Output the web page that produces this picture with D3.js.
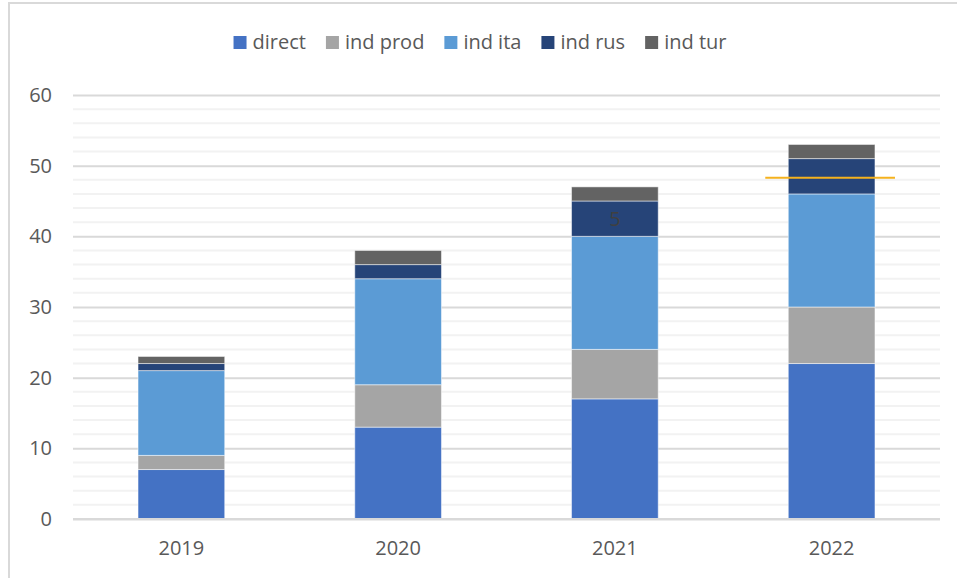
<!DOCTYPE html>
<html>
<head>
<meta charset="utf-8">
<script src="https://cdn.jsdelivr.net/npm/d3@7"></script>
<style>
  body { margin: 0; background: #fff; }
  text { font-family: "Open Sans", sans-serif; fill: #595959; }
</style>
</head>
<body>
<div id="chart"></div>
<script>
var years = ["2019", "2020", "2021", "2022"];
var series = ["direct", "ind prod", "ind ita", "ind rus", "ind tur"];
var direct  = [7, 13, 17, 22];
var indProd = [2, 6, 7, 8];
var indIta  = [12, 15, 16, 16];
var indRus  = [1, 2, 5, 5];
var indTur  = [1, 2, 2, 2];
var colors = ["#4472C4", "#A5A5A5", "#5B9BD5", "#264478", "#636363"];
var yTicks = [0, 10, 20, 30, 40, 50, 60];
var markerValue = 48.3;   // the orange line on the 2022 bar
var labelYear = "2021", labelSeries = "ind rus";

var svg = d3.select("#chart").append("svg")
    .attr("width", 957)
    .attr("height", 578);

// chart frame
svg.append("rect")
    .attr("x", 9).attr("y", 3)
    .attr("width", 1000).attr("height", 700)
    .attr("fill", "none")
    .attr("stroke", "#D9D9D9")
    .attr("stroke-width", 2);

var margin = {top: 95, right: 17, bottom: 59, left: 73};
var width = 957 - margin.left - margin.right;
var height = 578 - margin.top - margin.bottom;

var g = svg.append("g").attr("transform", "translate(" + margin.left + "," + margin.top + ")");

var x = d3.scaleBand().domain(years).range([0, width]).paddingInner(0.6).paddingOuter(0.3);
var y = d3.scaleLinear().domain([0, 60]).range([height, 0]);

var table = years.map(function(yr, i) {
  return {year: yr, "direct": direct[i], "ind prod": indProd[i], "ind ita": indIta[i], "ind rus": indRus[i], "ind tur": indTur[i]};
});
var stacked = d3.stack().keys(series)(table);

// minor gridlines
g.append("g")
    .selectAll("line")
    .data(d3.range(2, 60, 2).filter(function(v){ return v % 10 != 0; }))
    .enter().append("line")
    .attr("x1", 0).attr("x2", width)
    .attr("y1", function(d){ return y(d); })
    .attr("y2", function(d){ return y(d); })
    .attr("stroke", "#F2F2F2")
    .attr("stroke-width", 2);

// major gridlines
g.append("g")
    .attr("class", "grid")
    .call(d3.axisLeft(y).tickValues(yTicks).tickSize(-width).tickFormat(""))
    .call(function(s){ s.select(".domain").remove(); })
    .selectAll("line")
    .attr("stroke", "#D9D9D9")
    .attr("stroke-width", 2);

// y labels
g.append("g")
    .call(d3.axisLeft(y).tickValues(yTicks).tickSize(0).tickPadding(21))
    .call(function(s){ s.select(".domain").remove(); })
    .selectAll("text")
    .style("font-size", "20px")
    .attr("fill", "#595959");

// bars
g.append("g")
    .selectAll("g")
    .data(stacked)
    .enter().append("g")
    .attr("fill", function(d, i){ return colors[i]; })
    .selectAll("rect")
    .data(function(d){ return d; })
    .enter().append("rect")
    .attr("x", function(d){ return x(d.data.year); })
    .attr("y", function(d){ return y(d[1]); })
    .attr("height", function(d){ return y(d[0]) - y(d[1]); })
    .attr("width", x.bandwidth())
    .attr("stroke", "#fff")
    .attr("stroke-opacity", 0.5)
    .attr("stroke-width", 1);

// data label
var ls = stacked[series.indexOf(labelSeries)][years.indexOf(labelYear)];
g.append("text")
    .attr("x", x(labelYear) + x.bandwidth() / 2)
    .attr("y", y((ls[0] + ls[1]) / 2))
    .attr("dy", "0.35em")
    .attr("text-anchor", "middle")
    .style("font-size", "20px")
    .style("fill", "#404040")
    .text(ls[1] - ls[0]);

// x axis line + labels
g.append("line")
    .attr("x1", 0).attr("x2", width)
    .attr("y1", height).attr("y2", height)
    .attr("stroke", "#D9D9D9")
    .attr("stroke-width", 2);

g.append("g")
    .attr("transform", "translate(0," + height + ")")
    .call(d3.axisBottom(x).tickSize(0).tickPadding(22))
    .call(function(s){ s.select(".domain").remove(); })
    .selectAll("text")
    .style("font-size", "20px")
    .attr("fill", "#595959");

// orange marker line
var last = years[years.length - 1];
g.append("line")
    .attr("x1", x(last) - 23)
    .attr("x2", x(last) + x.bandwidth() + 20)
    .attr("y1", y(markerValue))
    .attr("y2", y(markerValue))
    .attr("stroke", "#F5B21E")
    .attr("stroke-width", 2);

// legend
var legend = svg.append("g");
var lx = 0;
series.forEach(function(s, i) {
  var item = legend.append("g").attr("transform", "translate(" + lx + ",0)");
  item.append("rect")
      .attr("x", 0).attr("y", -6)
      .attr("width", 13).attr("height", 13)
      .attr("fill", colors[i]);
  var t = item.append("text")
      .attr("x", 19).attr("y", 0)
      .attr("dy", "0.35em")
      .style("font-size", "20px")
      .text(s);
  lx += 19 + t.node().getComputedTextLength() + 20;
});
var lw = lx - 20;
legend.attr("transform", "translate(" + (480 - lw / 2) + ",42)");
</script>
</body>
</html>
